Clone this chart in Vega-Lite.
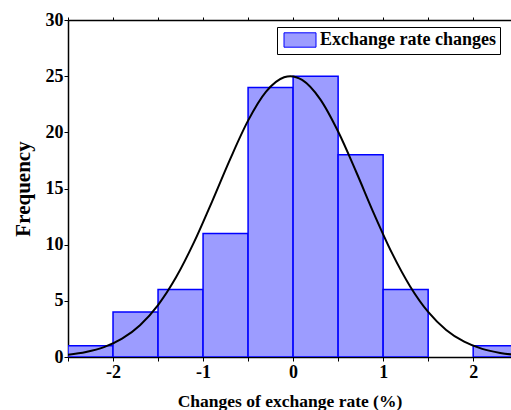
{
  "$schema": "https://vega.github.io/schema/vega-lite/v6.json",
  "width": 443,
  "height": 337,
  "autosize": {"type": "none"},
  "padding": {"left": 68, "top": 20, "right": 0, "bottom": 53},
  "background": "white",
  "config": {
    "view": {"stroke": null},
    "font": "Liberation Serif",
    "axis": {"labelFont": "Liberation Serif", "titleFont": "Liberation Serif"},
    "legend": {"labelFont": "Liberation Serif"}
  },
  "datasets": {
    "bins": [
      {"bin_start": -2.5, "bin_end": -2.0, "count": 1, "series": "Exchange rate changes"},
      {"bin_start": -2.0, "bin_end": -1.5, "count": 4, "series": "Exchange rate changes"},
      {"bin_start": -1.5, "bin_end": -1.0, "count": 6, "series": "Exchange rate changes"},
      {"bin_start": -1.0, "bin_end": -0.5, "count": 11, "series": "Exchange rate changes"},
      {"bin_start": -0.5, "bin_end": 0.0, "count": 24, "series": "Exchange rate changes"},
      {"bin_start": 0.0, "bin_end": 0.5, "count": 25, "series": "Exchange rate changes"},
      {"bin_start": 0.5, "bin_end": 1.0, "count": 18, "series": "Exchange rate changes"},
      {"bin_start": 1.0, "bin_end": 1.5, "count": 6, "series": "Exchange rate changes"},
      {"bin_start": 2.0, "bin_end": 2.5, "count": 1, "series": "Exchange rate changes"}
    ],
    "curve": [
      {"x": -2.5, "y": 0.21}, {"x": -2.3, "y": 0.45}, {"x": -2.1, "y": 0.88},
      {"x": -1.9, "y": 1.63}, {"x": -1.7, "y": 2.83}, {"x": -1.5, "y": 4.62},
      {"x": -1.3, "y": 7.09}, {"x": -1.1, "y": 10.22}, {"x": -0.9, "y": 13.84},
      {"x": -0.7, "y": 17.6}, {"x": -0.5, "y": 21.04}, {"x": -0.3, "y": 23.62},
      {"x": -0.1, "y": 24.9}, {"x": -0.03, "y": 25.0}, {"x": 0.1, "y": 24.67},
      {"x": 0.3, "y": 22.96}, {"x": 0.5, "y": 20.07}, {"x": 0.7, "y": 16.49},
      {"x": 0.9, "y": 12.72}, {"x": 1.1, "y": 9.22}, {"x": 1.3, "y": 6.28},
      {"x": 1.5, "y": 4.01}, {"x": 1.7, "y": 2.41}, {"x": 1.9, "y": 1.36},
      {"x": 2.1, "y": 0.72}, {"x": 2.3, "y": 0.36}, {"x": 2.5, "y": 0.17}
    ]
  },
  "layer": [
    {
      "data": {"name": "bins"},
      "mark": {"type": "bar", "stroke": "#0000ff", "strokeWidth": 1.5, "clip": true, "fillOpacity": 1},
      "encoding": {
        "x": {
          "field": "bin_start", "type": "quantitative",
          "scale": {"domain": [-2.5, 2.42], "nice": false, "zero": false},
          "axis": {
            "orient": "bottom",
            "values": [-2.5, -2, -1.5, -1, -0.5, 0, 0.5, 1, 1.5, 2],
            "labelExpr": "datum.value % 1 === 0 ? toString(datum.value) : ''",
            "grid": false, "domainColor": "black", "domainWidth": 1.5,
            "tickColor": "black", "tickWidth": 1, "tickSize": 4,
            "labelFont": "Liberation Serif", "labelFontSize": 18, "labelFontWeight": "bold",
            "labelColor": "black", "labelPadding": 2, "labelFlush": false,
            "title": "Changes of exchange rate (%)",
            "titleFont": "Liberation Serif", "titleFontSize": 17.5, "titleFontWeight": "bold",
            "titleColor": "black", "titlePadding": 11
          }
        },
        "x2": {"field": "bin_end"},
        "y": {
          "field": "count", "type": "quantitative",
          "scale": {"domain": [0, 30], "nice": false},
          "axis": {
            "values": [0, 2.5, 5, 7.5, 10, 12.5, 15, 17.5, 20, 22.5, 25, 27.5, 30],
            "labelExpr": "datum.value % 5 === 0 ? toString(datum.value) : ''",
            "grid": false, "domainColor": "black", "domainWidth": 1.5,
            "tickColor": "black", "tickWidth": 1, "tickSize": 4,
            "labelFont": "Liberation Serif", "labelFontSize": 18, "labelFontWeight": "bold",
            "labelColor": "black", "labelPadding": 1,
            "title": "Frequency",
            "titleFont": "Liberation Serif", "titleFontSize": 21, "titleFontWeight": "bold",
            "titleColor": "black", "titlePadding": 12
          }
        },
        "y2": {"datum": 0},
        "fill": {
          "field": "series", "type": "nominal",
          "scale": {"range": ["#9c9cff"]},
          "legend": {
            "orient": "none", "legendX": 209, "legendY": 7, "title": null,
            "symbolType": "M-2,-0.9H2V0.9H-2Z", "symbolSize": 256, "symbolOffset": 10,
            "symbolStrokeColor": "#0000ff", "symbolStrokeWidth": 1, "symbolOpacity": 1,
            "labelFont": "Liberation Serif", "labelFontSize": 18, "labelFontWeight": "bold",
            "labelColor": "black", "labelOffset": 11, "labelLimit": 400,
            "strokeColor": "black", "padding": 4
          }
        }
      }
    },
    {
      "data": {"name": "curve"},
      "mark": {"type": "line", "color": "black", "strokeWidth": 2, "interpolate": "monotone", "clip": true},
      "encoding": {
        "x": {
          "field": "x", "type": "quantitative",
          "axis": {
            "orient": "top",
            "values": [-2.5, -2, -1.5, -1, -0.5, 0, 0.5, 1, 1.5, 2],
            "labels": false, "title": null, "grid": false,
            "domainColor": "black", "domainWidth": 1.5,
            "tickColor": "black", "tickWidth": 1, "tickSize": 3
          }
        },
        "y": {"field": "y", "type": "quantitative"}
      }
    }
  ],
  "resolve": {"scale": {"x": "shared", "y": "shared"}, "axis": {"x": "independent"}}
}
